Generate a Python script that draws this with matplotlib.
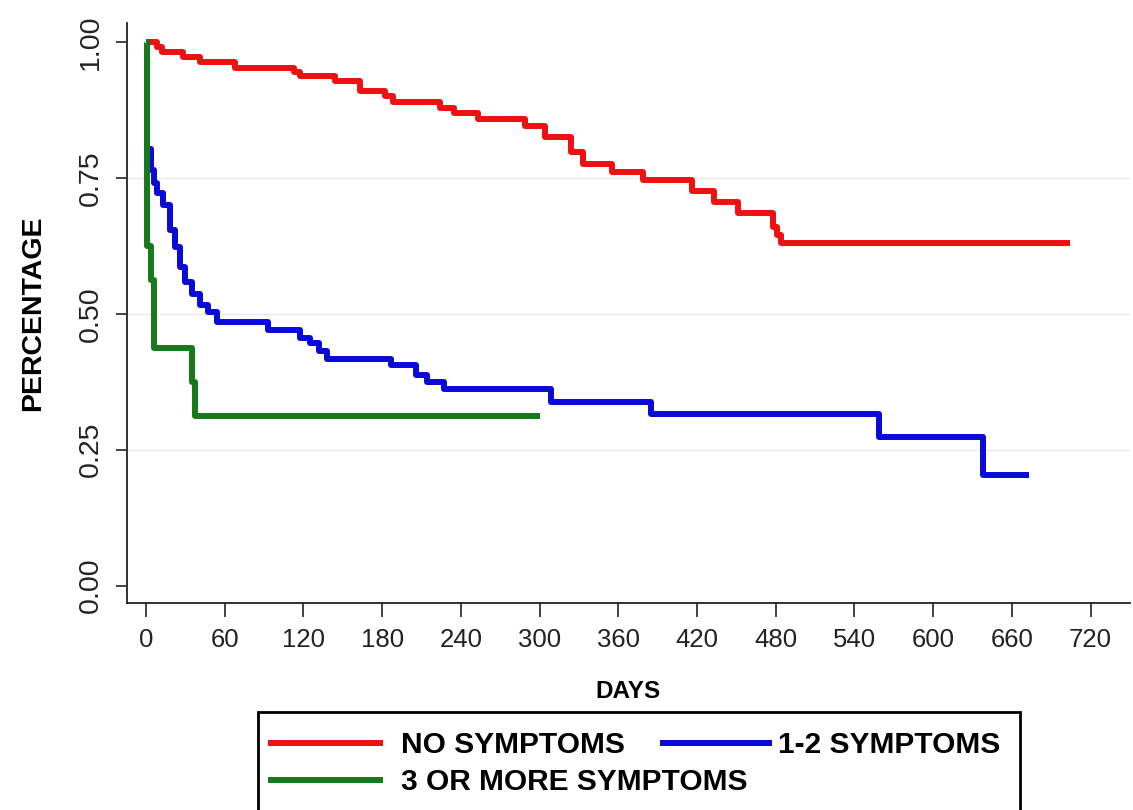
import matplotlib
matplotlib.use('Agg')
import matplotlib.pyplot as plt
from matplotlib.patches import Rectangle

# --- Fonts: Arial-like ---
plt.rcParams['font.family'] = ['Liberation Sans', 'DejaVu Sans']

# --- Kaplan-Meier step data ---
no_sym_days = [0, 8, 12, 28, 41, 68, 113, 117, 144, 163, 182, 188, 224, 235, 253,
               289, 304, 324, 333, 355, 379, 416, 433, 451, 478, 481, 484, 704]
no_sym_surv = [1.0, 0.99, 0.981, 0.973, 0.964, 0.953, 0.945, 0.937, 0.929, 0.910,
               0.900, 0.890, 0.878, 0.869, 0.858, 0.845, 0.826, 0.798, 0.775, 0.761,
               0.746, 0.726, 0.706, 0.686, 0.660, 0.645, 0.630, 0.630]

sym12_days = [0, 1, 4, 6, 8, 13, 18, 22, 26, 30, 35, 41, 47, 54, 93, 117, 125, 132,
              138, 187, 206, 214, 227, 309, 385, 559, 638, 673]
sym12_surv = [1.0, 0.804, 0.765, 0.740, 0.722, 0.700, 0.654, 0.623, 0.586, 0.559,
              0.537, 0.516, 0.503, 0.485, 0.470, 0.456, 0.446, 0.432, 0.417, 0.405,
              0.387, 0.374, 0.362, 0.338, 0.316, 0.273, 0.204, 0.204]

sym3_days = [0, 1, 4, 6, 35, 37, 300]
sym3_surv = [1.0, 0.625, 0.5625, 0.4375, 0.375, 0.3125, 0.3125]

x_ticks = list(range(0, 721, 60))
y_ticks = [0.0, 0.25, 0.50, 0.75, 1.0]
y_tick_labels = ['0.00', '0.25', '0.50', '0.75', '1.00']

labels = ['NO SYMPTOMS', '1-2 SYMPTOMS', '3 OR MORE SYMPTOMS']
colors = ['#ee1111', '#0a0ad8', '#167a1a']

# --- Figure ---
fig = plt.figure(figsize=(11.33, 8.1), dpi=100)
ax = fig.add_axes([0.1121, 0.2556, 0.8852, 0.716])

# faint horizontal grid, not at the axis ends
for yv in y_ticks[1:-1]:
    ax.axhline(yv, color='#e8e8e8', lw=0.9, zorder=0)

lw = 4.3
ax.step(no_sym_days, no_sym_surv, where='post', color=colors[0], lw=lw,
        solid_capstyle='butt', label=labels[0])
ax.step(sym12_days, sym12_surv, where='post', color=colors[1], lw=lw,
        solid_capstyle='butt', label=labels[1])
ax.step(sym3_days, sym3_surv, where='post', color=colors[2], lw=lw,
        solid_capstyle='butt', label=labels[2])

ax.set_xlim(-14.5, 750)
ax.set_ylim(-0.032, 1.035)
ax.set_xticks(x_ticks)
ax.set_yticks(y_ticks)
ax.set_yticklabels(y_tick_labels, rotation=90, va='center')

for side in ['top', 'right']:
    ax.spines[side].set_visible(False)
for side in ['left', 'bottom']:
    ax.spines[side].set_linewidth(1.3)
    ax.spines[side].set_color('#222222')

ax.tick_params(axis='x', length=10, width=1.2, pad=8, labelsize=18.5, colors='#222222')
ax.tick_params(axis='y', length=8, width=1.2, pad=9, labelsize=20.5, colors='#222222')

ax.set_xlabel('DAYS', fontsize=17.5, fontweight='bold')
ax.set_ylabel('PERCENTAGE', fontsize=20.5, fontweight='bold')
ax.xaxis.set_label_coords(0.5, -0.132)
ax.yaxis.set_label_coords(-0.081, 0.5)

# --- Legend: Stata-style row layout inside a single box ---
handles, hl = ax.get_legend_handles_labels()
leg_kw = dict(loc='center left', frameon=False, borderpad=0, borderaxespad=0,
              prop={'size': 21.5, 'weight': 'bold'})
fig.legend(handles[:1], hl[:1], handlelength=3.85, handletextpad=0.6,
           bbox_to_anchor=(268 / 1133, (810 - 745) / 810), **leg_kw)
fig.legend(handles[1:2], hl[1:2], handlelength=3.75, handletextpad=0.2,
           bbox_to_anchor=(660 / 1133, (810 - 745) / 810), **leg_kw)
fig.legend(handles[2:], hl[2:], handlelength=3.85, handletextpad=0.6,
           bbox_to_anchor=(268 / 1133, (810 - 782) / 810), **leg_kw)
fig.add_artist(Rectangle((258 / 1133, -0.05), (1020 - 258) / 1133, 0.171,
                         transform=fig.transFigure, fill=False, lw=2, ec='black'))

fig.savefig('out.png', dpi=100)
